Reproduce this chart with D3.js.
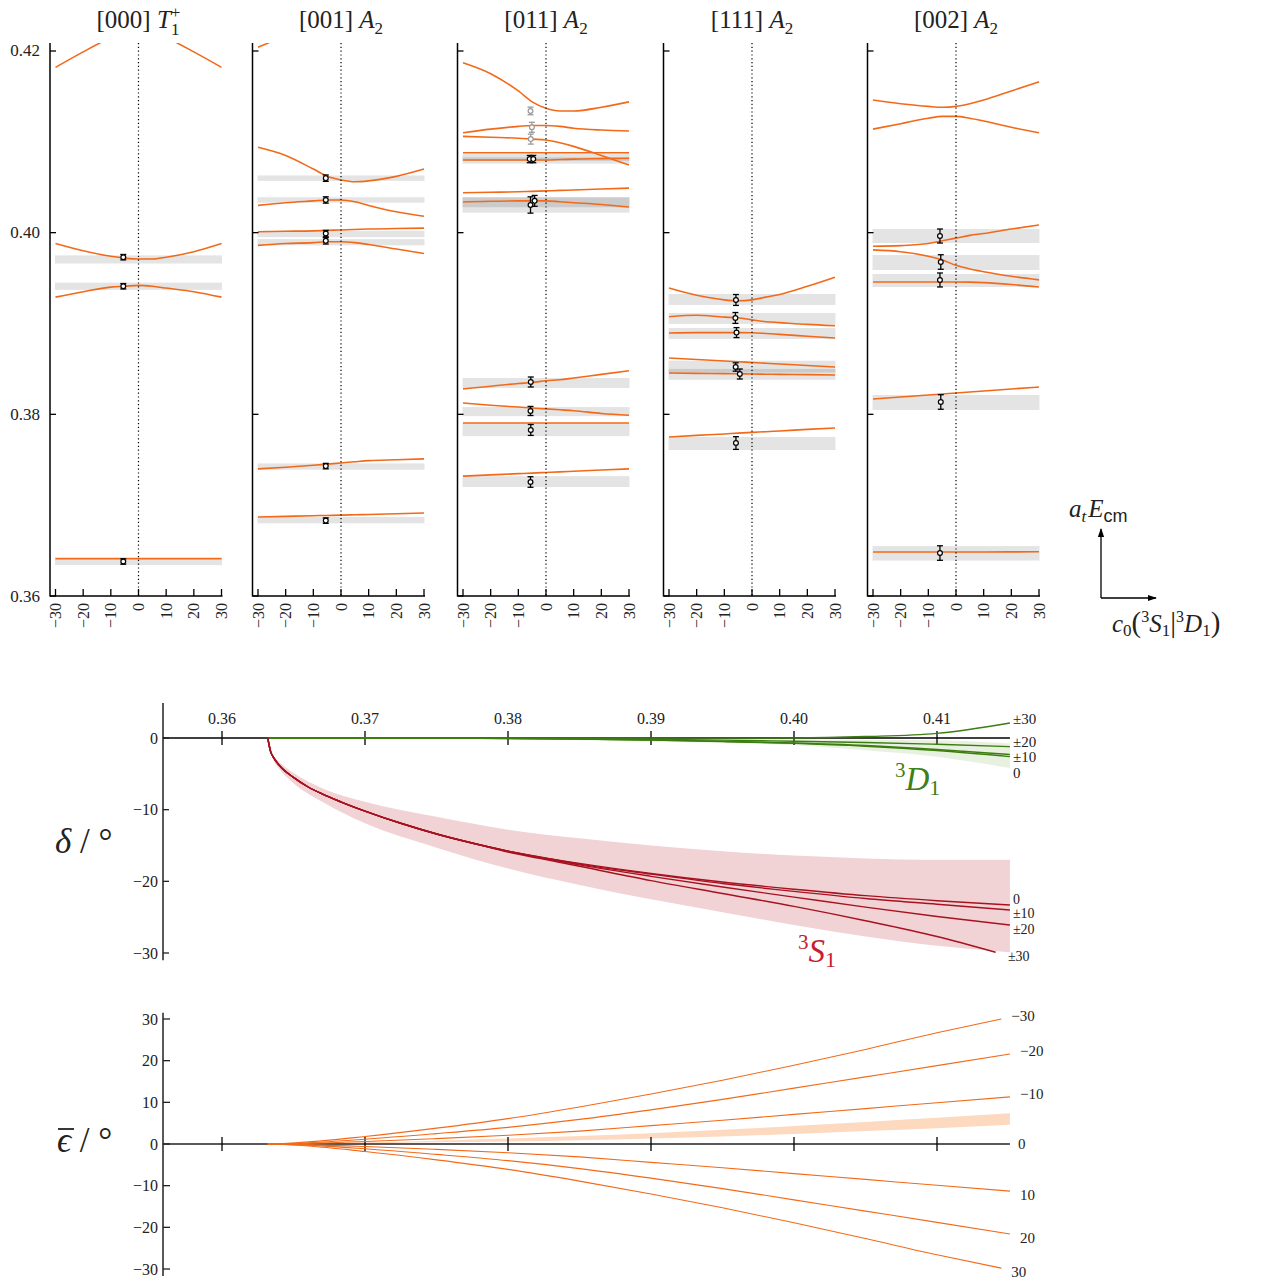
<!DOCTYPE html>
<html><head><meta charset="utf-8">
<script src="https://cdn.jsdelivr.net/npm/d3@7"></script>
<style>
body{margin:0;background:#fff}
svg{display:block}
text{font-family:"Liberation Serif","DejaVu Serif",serif;fill:#222}
.it{font-style:italic}
</style>
</head><body>
<svg id="c" width="1262" height="1285"></svg>
<script>
// ================= DATA =================
const c0Grid = [-30, -20, -10, -5, 0, 5, 10, 20, 30];
const c0Ticks = [-30, -20, -10, 0, 10, 20, 30];
const energyTicks = [0.36, 0.38, 0.40, 0.42];
const momenta = ["[000]", "[001]", "[011]", "[111]", "[002]"];
const irreps = [["T", "1", "+"], ["A", "2", ""], ["A", "2", ""], ["A", "2", ""], ["A", "2", ""]];

// energy levels a_t E_cm vs c0 (on c0Grid)
const levels000 = [
  [0.4182, 0.4199, 0.4215, 0.4222, 0.4225, 0.4222, 0.4215, 0.4199, 0.4182],
  [0.3988, 0.3980, 0.3974, 0.3972, 0.3971, 0.3971, 0.3973, 0.3979, 0.3988],
  [0.3929, 0.3935, 0.3940, 0.3941, 0.3942, 0.3941, 0.3939, 0.3935, 0.3929],
  [0.3641, 0.3641, 0.3641, 0.3641, 0.3641, 0.3641, 0.3641, 0.3641, 0.3641]
];
const bands000 = [[0.3966, 0.3975], [0.3937, 0.3945], [0.3634, 0.3643]];
const points000 = [[-5.5, 0.3973, 0.0003], [-5.5, 0.3941, 0.0003], [-5.5, 0.3638, 0.0003]];

const levels001 = [
  [0.4204, 0.4217, 0.4230, 0.4236, 0.4240, 0.4245, 0.4250, 0.4260, 0.4270],
  [0.4094, 0.4085, 0.4070, 0.4062, 0.4058, 0.4056, 0.4057, 0.4062, 0.4070],
  [0.4030, 0.4033, 0.4035, 0.4036, 0.4036, 0.4034, 0.4030, 0.4023, 0.4018],
  [0.4001, 0.40015, 0.4002, 0.40025, 0.4003, 0.40035, 0.4004, 0.40045, 0.4005],
  [0.3986, 0.3988, 0.3989, 0.3990, 0.3990, 0.3989, 0.3987, 0.3982, 0.3977],
  [0.3740, 0.37418, 0.3744, 0.37452, 0.37465, 0.37478, 0.3749, 0.3750, 0.3751],
  [0.3687, 0.36877, 0.36884, 0.36887, 0.3689, 0.36894, 0.36898, 0.36906, 0.36914]
];
const bands001 = [[0.4057, 0.4063], [0.4033, 0.4039], [0.3995, 0.4002], [0.3986, 0.3993], [0.3739, 0.3746], [0.3680, 0.3687]];
const points001 = [[-5.5, 0.4060, 0.00035], [-5.5, 0.4036, 0.00035], [-5.5, 0.3999, 0.00035], [-5.5, 0.3991, 0.00035], [-5.5, 0.3743, 0.0003], [-5.5, 0.3683, 0.0003]];

const levels011 = [
  [0.4187, 0.4175, 0.4156, 0.4144, 0.4137, 0.4134, 0.4134, 0.4138, 0.4144],
  [0.4110, 0.4114, 0.4117, 0.4118, 0.4118, 0.4117, 0.4115, 0.4113, 0.4112],
  [0.4106, 0.4105, 0.4104, 0.4103, 0.4102, 0.4099, 0.4095, 0.4085, 0.40745],
  [0.4088, 0.4088, 0.4088, 0.4088, 0.4088, 0.4088, 0.4088, 0.4088, 0.4088],
  [0.4080, 0.4080, 0.4080, 0.4080, 0.4080, 0.40805, 0.4081, 0.40815, 0.4082],
  [0.4044, 0.40445, 0.4045, 0.40455, 0.4046, 0.40465, 0.4047, 0.4048, 0.4049],
  [0.40338, 0.40345, 0.4035, 0.4035, 0.4035, 0.4034, 0.4033, 0.4031, 0.40283],
  [0.3828, 0.3831, 0.3834, 0.3835, 0.3837, 0.3838, 0.3840, 0.3844, 0.3848],
  [0.38125, 0.3810, 0.3808, 0.3807, 0.3806, 0.3805, 0.3804, 0.3801, 0.3799],
  [0.37905, 0.37905, 0.37905, 0.37905, 0.37905, 0.37905, 0.37905, 0.37905, 0.37905],
  [0.3732, 0.37333, 0.37347, 0.37353, 0.3736, 0.37367, 0.37373, 0.37387, 0.3740]
];
const bands011 = [[0.4079, 0.4087], [0.4076, 0.4083], [0.4022, 0.4039], [0.4028, 0.4039], [0.3829, 0.3840], [0.3798, 0.3808], [0.3776, 0.37905], [0.3720, 0.3732]];
const points011 = [[-5.9, 0.4081, 0.0004], [-4.6, 0.4081, 0.0004], [-5.6, 0.40305, 0.0009], [-4.1, 0.4035, 0.0006],
  [-5.5, 0.38356, 0.00055], [-5.6, 0.38037, 0.0005], [-5.5, 0.37828, 0.0006], [-5.6, 0.37255, 0.00058]];
const greyPoints011 = [[-5.6, 0.4134, 0.00042], [-5.1, 0.4116, 0.00055], [-5.5, 0.4103, 0.00055]];

const levels111 = [
  [0.3939, 0.3931, 0.3926, 0.3925, 0.3926, 0.3929, 0.3932, 0.3941, 0.3951],
  [0.39075, 0.3909, 0.3907, 0.39063, 0.3904, 0.3902, 0.3901, 0.3899, 0.38976],
  [0.38896, 0.3890, 0.3890, 0.3890, 0.38898, 0.3889, 0.3888, 0.3886, 0.3884],
  [0.3862, 0.38603, 0.38587, 0.38579, 0.3857, 0.38562, 0.38554, 0.38537, 0.38521],
  [0.38455, 0.38451, 0.38448, 0.38446, 0.38444, 0.38442, 0.3844, 0.38437, 0.38433],
  [0.37751, 0.37768, 0.37784, 0.37793, 0.37801, 0.37809, 0.37817, 0.37834, 0.3785]
];
const bands111 = [[0.39204, 0.39325], [0.38995, 0.39116], [0.38830, 0.38951], [0.3846, 0.3859], [0.3838, 0.3850], [0.37607, 0.37751]];
const points111 = [[-5.8, 0.39259, 0.0006], [-6.0, 0.39061, 0.0006], [-5.6, 0.3890, 0.00055], [-5.9, 0.38521, 0.00046], [-4.4, 0.38444, 0.00055], [-5.8, 0.37684, 0.0007]];

const levels002 = [
  [0.4146, 0.4142, 0.4139, 0.4138, 0.4139, 0.4142, 0.4146, 0.4156, 0.4166],
  [0.4114, 0.4120, 0.4126, 0.4128, 0.4128, 0.4126, 0.4123, 0.4116, 0.4110],
  [0.3985, 0.39857, 0.3988, 0.3991, 0.3994, 0.3997, 0.3999, 0.4004, 0.40085],
  [0.3981, 0.3979, 0.3974, 0.3970, 0.3964, 0.3960, 0.3957, 0.3952, 0.3948],
  [0.39457, 0.39457, 0.39457, 0.39457, 0.39457, 0.39455, 0.3945, 0.3943, 0.39402],
  [0.38169, 0.38191, 0.38213, 0.38224, 0.38235, 0.38246, 0.38257, 0.38279, 0.38301],
  [0.36484, 0.36484, 0.36484, 0.36484, 0.36484, 0.36484, 0.36485, 0.36486, 0.36487]
];
const bands002 = [[0.39886, 0.40041], [0.39589, 0.39754], [0.39402, 0.39545], [0.38048, 0.38213], [0.3639, 0.3655]];
const points002 = [[-5.8, 0.39963, 0.00077], [-5.5, 0.39677, 0.0008], [-5.8, 0.39479, 0.00077], [-5.5, 0.38136, 0.0008], [-5.8, 0.36473, 0.0008]];

// phase shifts (degrees) vs a_t E_cm
const phaseTicks = [0.36, 0.37, 0.38, 0.39, 0.40, 0.41];
const deltaTicks = [0, -10, -20, -30];
const epsTicks = [30, 20, 10, 0, -10, -20, -30];

const sE   = [0.3632, 0.3634, 0.3636, 0.364, 0.365, 0.366, 0.367, 0.3683, 0.370, 0.3725, 0.3752, 0.378, 0.380, 0.3822, 0.385, 0.390, 0.395, 0.400, 0.405, 0.410, 0.4151];
const s30E = [0.3632, 0.3634, 0.3636, 0.364, 0.365, 0.366, 0.367, 0.3683, 0.370, 0.3725, 0.3752, 0.378, 0.380, 0.3822, 0.385, 0.390, 0.395, 0.400, 0.405, 0.410, 0.4141];
const s1c0  = [0, -1.9, -2.7, -3.8, -5.5, -6.8, -7.8, -8.9, -10.2, -11.9, -13.5, -14.9, -15.8, -16.6, -17.5, -18.9, -20.1, -21.1, -22.0, -22.7, -23.3];
const s1c10 = [0, -1.9, -2.7, -3.8, -5.5, -6.8, -7.8, -8.9, -10.2, -11.9, -13.5, -14.9, -15.8, -16.6, -17.6, -19.0, -20.3, -21.4, -22.4, -23.2, -24.0];
const s1c20 = [0, -1.9, -2.7, -3.8, -5.5, -6.8, -7.8, -8.9, -10.2, -11.9, -13.5, -14.9, -15.8, -16.7, -17.7, -19.3, -20.8, -22.2, -23.6, -24.9, -26.1];
const s1c30 = [0, -1.9, -2.7, -3.8, -5.5, -6.8, -7.8, -8.9, -10.2, -11.9, -13.5, -14.9, -15.9, -16.8, -17.9, -19.9, -21.7, -23.5, -25.5, -27.7, -29.9];
const sBandE  = [0.3632, 0.3636, 0.364, 0.365, 0.367, 0.370, 0.375, 0.380, 0.385, 0.390, 0.395, 0.400, 0.405, 0.410, 0.4151];
const sBandHi = [0, -2.4, -3.3, -4.9, -7.0, -8.9, -11.0, -12.8, -14.0, -15.0, -15.8, -16.4, -16.8, -17.0, -17.0];
const sBandLo = [0, -3.1, -4.3, -6.3, -8.9, -11.9, -15.3, -18.2, -20.5, -22.5, -24.3, -26.1, -27.7, -29.0, -29.9];

const dE    = [0.3632, 0.370, 0.375, 0.380, 0.385, 0.390, 0.395, 0.400, 0.405, 0.410, 0.4151];
const d1c0  = [0, -0.01, -0.03, -0.07, -0.15, -0.3, -0.5, -0.75, -1.15, -1.75, -2.6];
const d1c10 = [0, -0.01, -0.03, -0.07, -0.14, -0.28, -0.46, -0.7, -1.05, -1.6, -2.3];
const d1c20 = [0, -0.01, -0.02, -0.05, -0.1, -0.18, -0.3, -0.45, -0.62, -0.88, -1.2];
const d1c30 = [0, 0, 0, 0.01, 0.01, 0, -0.02, 0.0, 0.2, 0.65, 2.1];
const dBandE  = [0.382, 0.385, 0.390, 0.395, 0.400, 0.405, 0.410, 0.4151];
const dBandHi = [0, -0.05, -0.1, -0.15, -0.2, -0.25, -0.3, -0.75];
const dBandLo = [-0.1, -0.3, -0.5, -0.7, -1.0, -1.7, -2.6, -4.2];

const eE   = [0.3632, 0.365, 0.370, 0.375, 0.380, 0.385, 0.390, 0.395, 0.400, 0.405, 0.410, 0.4151];
const e30E = [0.3632, 0.365, 0.370, 0.375, 0.380, 0.385, 0.390, 0.395, 0.400, 0.405, 0.410, 0.4145];
const epsM30 = [0, 0.25, 1.8, 3.8, 6.1, 8.9, 12.0, 15.3, 18.9, 22.7, 26.7, 30.0];
const epsM20 = [0, 0.15, 1.15, 2.5, 4.0, 5.9, 8.2, 10.7, 13.4, 16.1, 18.8, 21.6];
const epsM10 = [0, 0.08, 0.6, 1.3, 2.1, 3.1, 4.4, 5.7, 7.1, 8.5, 9.9, 11.3];
const epsP10 = [0, -0.08, -0.6, -1.3, -2.1, -3.1, -4.4, -5.7, -7.1, -8.5, -9.9, -11.3];
const epsP20 = [0, -0.15, -1.15, -2.5, -4.0, -5.9, -8.2, -10.7, -13.4, -16.1, -18.8, -21.6];
const epsP30 = [0, -0.25, -1.8, -3.8, -6.1, -8.9, -12.0, -15.3, -18.9, -22.7, -26.6, -29.8];
const epsBandHi = [0, 0.1, 0.4, 0.8, 1.3, 1.9, 2.6, 3.4, 4.3, 5.3, 6.3, 7.4];
const epsBandLo = [0, 0.05, 0.2, 0.4, 0.6, 0.9, 1.3, 1.8, 2.4, 3.1, 3.8, 4.6];

// ================= DRAWING =================
const svg = d3.select("#c");
const defs = svg.append("defs");
const ORANGE = "#f26a19";
const RED = "#a8111f";
const GREEN = "#3c7d0f";

const panels = [
  {levels: levels000, bands: bands000, points: points000, grey: []},
  {levels: levels001, bands: bands001, points: points001, grey: []},
  {levels: levels011, bands: bands011, points: points011, grey: greyPoints011},
  {levels: levels111, bands: bands111, points: points111, grey: []},
  {levels: levels002, bands: bands002, points: points002, grey: []}
];

const yTop = d3.scaleLinear().domain([0.36, 0.42088]).range([596, 43]);
const panelLeft = [50, 252.5, 457.5, 663.5, 867.5];
const fmtNum = v => (v < 0 ? "\u2212" : "") + Math.abs(v);

panels.forEach((p, i) => {
  const L = panelLeft[i];
  const x = d3.scaleLinear().domain([-30, 30]).range([L + 5.5, L + 171.5]);
  const g = svg.append("g");
  const cid = "clip" + i;
  defs.append("clipPath").attr("id", cid).append("rect")
    .attr("x", L).attr("y", 43).attr("width", 185).attr("height", 553);

  g.selectAll("rect.band").data(p.bands).join("rect").attr("class", "band")
    .attr("x", x(-30) - 0.5).attr("width", x(30) - x(-30) + 1)
    .attr("y", d => yTop(d[1])).attr("height", d => yTop(d[0]) - yTop(d[1]))
    .attr("fill", "#000").attr("fill-opacity", 0.105);

  const line = d3.line().x((d, j) => x(c0Grid[j])).y(d => yTop(d)).curve(d3.curveMonotoneX);
  g.append("g").attr("clip-path", `url(#${cid})`)
    .selectAll("path").data(p.levels).join("path")
    .attr("d", line).attr("fill", "none").attr("stroke", ORANGE).attr("stroke-width", 1.6);

  // dotted zero line
  g.append("line").attr("x1", x(0)).attr("x2", x(0)).attr("y1", 43).attr("y2", 596)
    .attr("stroke", "#000").attr("stroke-width", 1.2).attr("stroke-dasharray", "1.2,2.6");

  // axes
  g.append("line").attr("x1", L).attr("x2", L).attr("y1", 43).attr("y2", 596.5)
    .attr("stroke", "#000").attr("stroke-width", 1.5);
  g.append("line").attr("x1", L).attr("x2", x(30) + 1).attr("y1", 596).attr("y2", 596)
    .attr("stroke", "#000").attr("stroke-width", 1.5);
  g.selectAll("line.yt").data(energyTicks).join("line").attr("class", "yt")
    .attr("x1", L).attr("x2", L + 6).attr("y1", d => yTop(d)).attr("y2", d => yTop(d))
    .attr("stroke", "#000").attr("stroke-width", 1.3);
  g.selectAll("line.xt").data(c0Ticks).join("line").attr("class", "xt")
    .attr("x1", d => x(d)).attr("x2", d => x(d)).attr("y1", 596).attr("y2", 589)
    .attr("stroke", "#000").attr("stroke-width", 1.3);
  g.selectAll("text.xl").data(c0Ticks).join("text").attr("class", "xl")
    .attr("transform", d => `translate(${x(d)},603) rotate(-90)`)
    .attr("text-anchor", "end").attr("dominant-baseline", "central")
    .attr("font-size", 16).text(fmtNum);
  if (i === 0) {
    g.selectAll("text.yl").data(energyTicks).join("text").attr("class", "yl")
      .attr("x", L - 10).attr("y", d => yTop(d)).attr("text-anchor", "end")
      .attr("dominant-baseline", "central").attr("font-size", 17)
      .text(d => d.toFixed(2));
  }

  // title
  const t = g.append("text").attr("x", x(0)).attr("y", 28).attr("text-anchor", "middle").attr("font-size", 25);
  t.append("tspan").text(momenta[i] + " ");
  t.append("tspan").attr("class", "it").text(irreps[i][0]);
  if (irreps[i][2]) {
    t.append("tspan").attr("font-size", 17).attr("dy", -10).text(irreps[i][2]);
    t.append("tspan").attr("font-size", 17).attr("dx", -9.5).attr("dy", 17).text(irreps[i][1]);
  } else {
    t.append("tspan").attr("font-size", 17).attr("dy", 6).text(irreps[i][1]);
  }

  // data points
  const drawPts = (data, col) => {
    const pg = g.append("g");
    data.forEach(d => {
      const cx = x(d[0]), y1 = yTop(d[1] - d[2]), y2 = yTop(d[1] + d[2]);
      pg.append("line").attr("x1", cx).attr("x2", cx).attr("y1", y1).attr("y2", y2).attr("stroke", col).attr("stroke-width", 1.3);
      pg.append("line").attr("x1", cx - 3).attr("x2", cx + 3).attr("y1", y1).attr("y2", y1).attr("stroke", col).attr("stroke-width", 1.3);
      pg.append("line").attr("x1", cx - 3).attr("x2", cx + 3).attr("y1", y2).attr("y2", y2).attr("stroke", col).attr("stroke-width", 1.3);
      pg.append("circle").attr("cx", cx).attr("cy", yTop(d[1])).attr("r", 2.4)
        .attr("fill", "#fff").attr("stroke", col).attr("stroke-width", 1.2);
    });
  };
  drawPts(p.grey, "#999");
  drawPts(p.points, "#000");
});

// ----- side legend (axes arrows)
defs.append("marker").attr("id", "arr").attr("viewBox", "0 0 10 10").attr("refX", 9).attr("refY", 5)
  .attr("markerWidth", 7).attr("markerHeight", 7).attr("orient", "auto")
  .append("path").attr("d", "M0,1.5 L10,5 L0,8.5 Z").attr("fill", "#000");
svg.append("line").attr("x1", 1101).attr("y1", 598).attr("x2", 1101).attr("y2", 529)
  .attr("stroke", "#000").attr("stroke-width", 1.3).attr("marker-end", "url(#arr)");
svg.append("line").attr("x1", 1101).attr("y1", 598).attr("x2", 1156).attr("y2", 598)
  .attr("stroke", "#000").attr("stroke-width", 1.3).attr("marker-end", "url(#arr)");
{
  const t = svg.append("text").attr("x", 1069).attr("y", 517).attr("font-size", 25);
  t.append("tspan").attr("class", "it").text("a");
  t.append("tspan").attr("class", "it").attr("font-size", 17).attr("dy", 5).text("t");
  t.append("tspan").attr("class", "it").attr("dx", 2).attr("dy", -5).text("E");
  t.append("tspan").attr("font-size", 18).attr("dy", 5).style("font-family", "'Liberation Sans','DejaVu Sans',sans-serif").text("cm");
  const u = svg.append("text").attr("x", 1112).attr("y", 632).attr("font-size", 25);
  u.append("tspan").attr("class", "it").text("c");
  u.append("tspan").attr("font-size", 17).attr("dy", 4).text("0");
  u.append("tspan").attr("dy", -4).attr("font-size", 29).text("(");
  u.append("tspan").attr("font-size", 16).attr("dy", -10).text("3");
  u.append("tspan").attr("class", "it").attr("dy", 10).text("S");
  u.append("tspan").attr("font-size", 17).attr("dy", 4).text("1");
  u.append("tspan").attr("dy", -4).attr("font-size", 29).text("|");
  u.append("tspan").attr("font-size", 16).attr("dy", -10).text("3");
  u.append("tspan").attr("class", "it").attr("dy", 10).text("D");
  u.append("tspan").attr("font-size", 17).attr("dy", 4).text("1");
  u.append("tspan").attr("dy", -4).attr("font-size", 29).text(")");
}

// ----- phase shift panel
const xP = d3.scaleLinear().domain([0.36, 0.41]).range([222, 937]);
const yD = d3.scaleLinear().domain([0, -30]).range([738, 953]);
const gD = svg.append("g");
const area = (E, lo, hi, ys) => d3.area().x((d, j) => xP(E[j])).y0((d, j) => ys(lo[j])).y1((d, j) => ys(hi[j])).curve(d3.curveMonotoneX)(E);
const lineP = (E, v, ys) => d3.line().x((d, j) => xP(E[j])).y(d => ys(d)).curve(d3.curveMonotoneX)(v);

gD.append("path").attr("d", area(sBandE, sBandLo, sBandHi, yD)).attr("fill", "#f1d3d6");
gD.append("path").attr("d", area(dBandE, dBandLo, dBandHi, yD)).attr("fill", "#e8f0e0");

// axes
gD.append("line").attr("x1", 163).attr("x2", 163).attr("y1", yD(4.9)).attr("y2", yD(-31))
  .attr("stroke", "#222").attr("stroke-width", 1.5);
gD.append("line").attr("x1", 163).attr("x2", xP(0.4151)).attr("y1", yD(0)).attr("y2", yD(0))
  .attr("stroke", "#000").attr("stroke-width", 1.4);
gD.selectAll("line.xt").data(phaseTicks).join("line").attr("class", "xt")
  .attr("x1", d => xP(d)).attr("x2", d => xP(d)).attr("y1", yD(0) - 7).attr("y2", yD(0) + 7)
  .attr("stroke", "#000").attr("stroke-width", 1.3);
gD.selectAll("text.xl").data(phaseTicks).join("text").attr("class", "xl")
  .attr("x", d => xP(d)).attr("y", yD(0) - 14).attr("text-anchor", "middle").attr("font-size", 16)
  .text(d => d.toFixed(2));
gD.selectAll("line.yt").data(deltaTicks).join("line").attr("class", "yt")
  .attr("x1", 163).attr("x2", 169).attr("y1", d => yD(d)).attr("y2", d => yD(d))
  .attr("stroke", "#222").attr("stroke-width", 1.3);
gD.selectAll("text.yl").data(deltaTicks).join("text").attr("class", "yl")
  .attr("x", 158).attr("y", d => yD(d)).attr("text-anchor", "end").attr("dominant-baseline", "central")
  .attr("font-size", 16).text(fmtNum);

[[dE, d1c0], [dE, d1c10], [dE, d1c20], [dE, d1c30]].forEach(([E, v]) =>
  gD.append("path").attr("d", lineP(E, v, yD)).attr("fill", "none").attr("stroke", GREEN).attr("stroke-width", 1.4));
[[sE, s1c0], [sE, s1c10], [sE, s1c20], [s30E, s1c30]].forEach(([E, v]) =>
  gD.append("path").attr("d", lineP(E, v, yD)).attr("fill", "none").attr("stroke", RED).attr("stroke-width", 1.4));

// curve labels
const endX = xP(0.4151) + 3;
[["\u00b130", 2.6], ["\u00b120", -0.5], ["\u00b110", -2.7], ["0", -4.9]].forEach(([s, v]) =>
  gD.append("text").attr("x", endX).attr("y", yD(v)).attr("dominant-baseline", "central").attr("font-size", 15).text(s));
[["0", -22.5], ["\u00b110", -24.5], ["\u00b120", -26.7], ["\u00b130", -30.5]].forEach(([s, v], k) =>
  gD.append("text").attr("x", k === 3 ? endX - 5 : endX).attr("y", yD(v)).attr("dominant-baseline", "central").attr("font-size", 14).text(s));

{
  const t = gD.append("text").attr("x", 895).attr("y", 790).attr("font-size", 33).style("fill", "#3f7f16");
  t.append("tspan").attr("font-size", 21).attr("dy", -13).text("3");
  t.append("tspan").attr("class", "it").attr("dy", 13).text("D");
  t.append("tspan").attr("font-size", 22).attr("dy", 5).text("1");
  const s = gD.append("text").attr("x", 798).attr("y", 962).attr("font-size", 33).style("fill", "#c6202e");
  s.append("tspan").attr("font-size", 21).attr("dy", -13).text("3");
  s.append("tspan").attr("class", "it").attr("dy", 13).text("S");
  s.append("tspan").attr("font-size", 22).attr("dy", 5).text("1");
  const yl = gD.append("text").attr("x", 55).attr("y", 853).attr("font-size", 35);
  yl.append("tspan").attr("class", "it").text("\u03b4");
  yl.append("tspan").text(" / \u00b0");
}

// ----- mixing angle panel
const yE = d3.scaleLinear().domain([0, 30]).range([1144, 1019]);
const gE = svg.append("g");
gE.append("path").attr("d", area(eE, epsBandLo, epsBandHi, yE)).attr("fill", "#fdd9c0");
gE.append("line").attr("x1", 163).attr("x2", 163).attr("y1", yE(31.5)).attr("y2", yE(-31.7))
  .attr("stroke", "#222").attr("stroke-width", 1.5);
gE.append("line").attr("x1", 163).attr("x2", xP(0.4151)).attr("y1", yE(0)).attr("y2", yE(0))
  .attr("stroke", "#222").attr("stroke-width", 1.4);
gE.selectAll("line.xt").data(phaseTicks).join("line").attr("class", "xt")
  .attr("x1", d => xP(d)).attr("x2", d => xP(d)).attr("y1", yE(0) - 7).attr("y2", yE(0) + 7)
  .attr("stroke", "#000").attr("stroke-width", 1.3);
gE.selectAll("line.yt").data(epsTicks).join("line").attr("class", "yt")
  .attr("x1", 163).attr("x2", 170).attr("y1", d => yE(d)).attr("y2", d => yE(d))
  .attr("stroke", "#222").attr("stroke-width", 1.3);
gE.selectAll("text.yl").data(epsTicks).join("text").attr("class", "yl")
  .attr("x", 158).attr("y", d => yE(d)).attr("text-anchor", "end").attr("dominant-baseline", "central")
  .attr("font-size", 16).text(fmtNum);

const epsCurves = [[e30E, epsM30, "\u221230"], [eE, epsM20, "\u221220"], [eE, epsM10, "\u221210"],
                   [eE, epsP10, "10"], [eE, epsP20, "20"], [e30E, epsP30, "30"]];
epsCurves.forEach(([E, v]) =>
  gE.append("path").attr("d", lineP(E, v, yE)).attr("fill", "none").attr("stroke", ORANGE).attr("stroke-width", 1.1));
epsCurves.forEach(([E, v, s]) => {
  const xe = xP(E[E.length - 1]), ye = yE(v[v.length - 1]);
  gE.append("text").attr("x", xe + 10).attr("y", ye + (v[v.length - 1] > 0 ? -3 : 4))
    .attr("dominant-baseline", "central").attr("font-size", 15).text(s);
});
gE.append("text").attr("x", xP(0.4151) + 8).attr("y", yE(0)).attr("dominant-baseline", "central").attr("font-size", 15).text("0");
{
  const yl = gE.append("text").attr("x", 57).attr("y", 1152).attr("font-size", 35);
  yl.append("tspan").attr("class", "it").text("\u03f5");
  yl.append("tspan").text(" / \u00b0");
  gE.append("line").attr("x1", 58).attr("x2", 74).attr("y1", 1129).attr("y2", 1129).attr("stroke", "#222").attr("stroke-width", 1.8);
}
</script>
</body></html>
